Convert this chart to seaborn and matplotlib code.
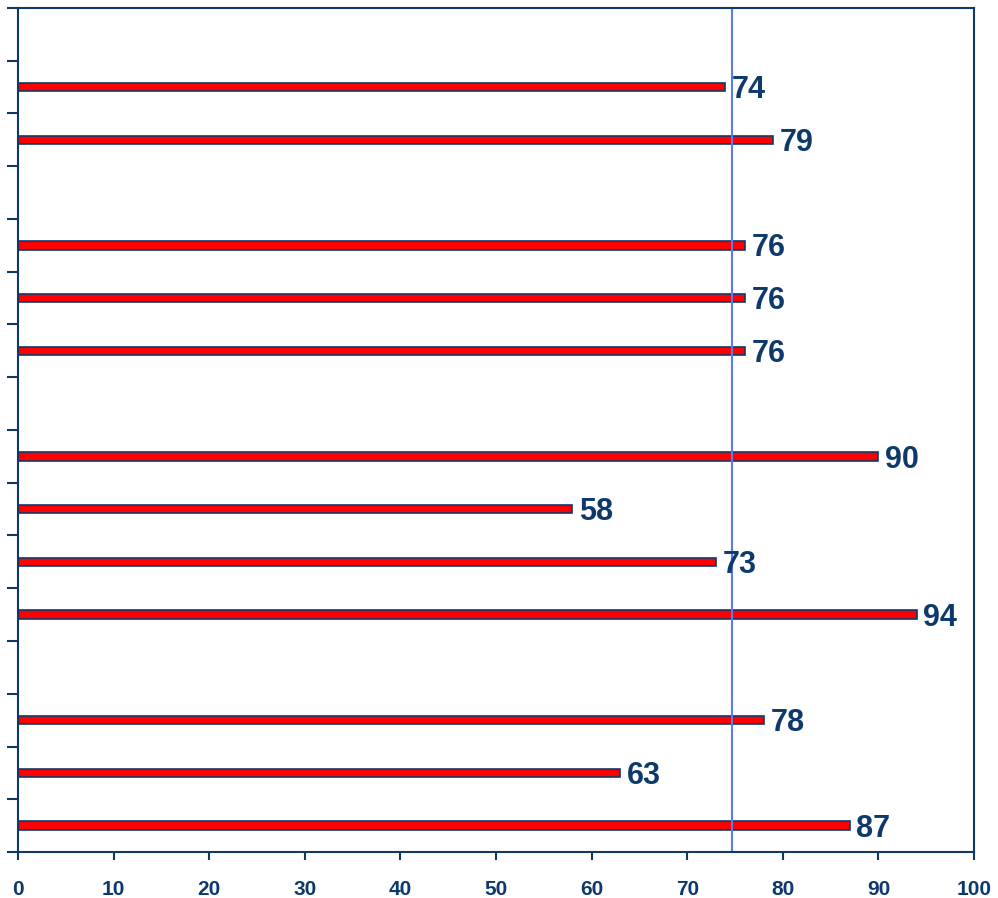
import numpy as np
import pandas as pd
import matplotlib
matplotlib.use('Agg')
import matplotlib.pyplot as plt
import seaborn as sns

# 16 slots from top to bottom, None = empty slot
slots = ['s1', 's2', 's3', 's4', 's5', 's6', 's7', 's8',
         's9', 's10', 's11', 's12', 's13', 's14', 's15', 's16']
values = [None, 74, 79, None, 76, 76, 76, None,
          90, 58, 73, 94, None, 78, 63, 87]
avg_line = 74.7

navy = '#0e3a6b'
df = pd.DataFrame({'slot': slots, 'value': [np.nan if v is None else v for v in values]})

sns.set_style('white')
plt.rcParams['font.family'] = ['Liberation Sans', 'DejaVu Sans']

fig = plt.figure(figsize=(9.98, 8.98), dpi=100)
ax = fig.add_axes([0.018, 0.0512, 0.958, 0.94])

sns.barplot(data=df.dropna(), x='value', y='slot', order=slots, orient='h',
            color='#ff0000', edgecolor=navy, linewidth=1.2, width=0.16,
            saturation=1, ax=ax)

for i, v in enumerate(values):
    if v is None:
        continue
    ax.text(v + 0.7, i + 0.06, str(v), va='center', ha='left', fontsize=22,
            fontweight='bold', color=navy)

ax.axvline(avg_line, color='#5a7cf0', linewidth=1.5)

ax.set_xlim(0, 100)
ax.set_ylim(len(slots) - 0.5, -0.5)
ax.set_xticks(np.arange(0, 101, 10))
ax.set_yticks(np.arange(-0.5, len(slots), 1))
ax.set_yticklabels([])
ax.set_xlabel('')
ax.set_ylabel('')
ax.tick_params(axis='x', bottom=True, labelsize=15, labelcolor=navy, colors=navy,
               direction='out', length=6, width=1.5, pad=14)
ax.tick_params(axis='y', left=True, colors=navy, direction='out', length=8, width=1.5)
for lbl in ax.get_xticklabels():
    lbl.set_fontweight('bold')
for sp in ax.spines.values():
    sp.set_color(navy)
    sp.set_linewidth(1.5)

plt.savefig('out.png', dpi=100)
